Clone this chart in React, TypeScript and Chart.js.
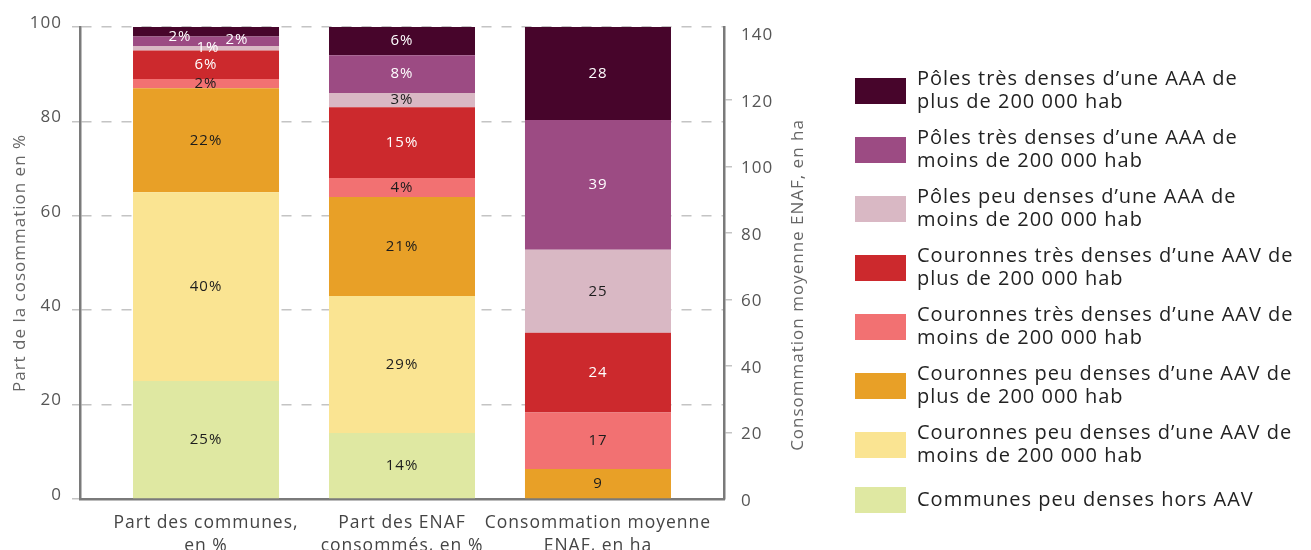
import React, { useEffect, useRef } from "react";
import { Chart, registerables } from "chart.js";

Chart.register(...registerables);

// ---------- DATA ----------
const categories: string[][] = [
  ["Part des communes,", "en %"],
  ["Part des ENAF", "consommés, en %"],
  ["Consommation moyenne", "ENAF, en ha"],
];

// series, from bottom of the stack to top
const seriesNames: string[] = [
  "Communes peu denses hors AAV",
  "Couronnes peu denses d’une AAV de moins de 200 000 hab",
  "Couronnes peu denses d’une AAV de plus de 200 000 hab",
  "Couronnes très denses d’une AAV de moins de 200 000 hab",
  "Couronnes très denses d’une AAV de plus de 200 000 hab",
  "Pôles peu denses d’une AAA de moins de 200 000 hab",
  "Pôles très denses d’une AAA de moins de 200 000 hab",
  "Pôles très denses d’une AAA de plus de 200 000 hab",
];

const legendLines: string[][] = [
  ["Communes peu denses hors AAV"],
  ["Couronnes peu denses d’une AAV de", "moins de 200 000 hab"],
  ["Couronnes peu denses d’une AAV de", "plus de 200 000 hab"],
  ["Couronnes très denses d’une AAV de", "moins de 200 000 hab"],
  ["Couronnes très denses d’une AAV de", "plus de 200 000 hab"],
  ["Pôles peu denses d’une AAA de", "moins de 200 000 hab"],
  ["Pôles très denses d’une AAA de", "moins de 200 000 hab"],
  ["Pôles très denses d’une AAA de", "plus de 200 000 hab"],
];

const seriesColors: string[] = [
  "#dfe8a2",
  "#fae492",
  "#e8a027",
  "#f27172",
  "#cc292d",
  "#d9b8c4",
  "#9c4b83",
  "#47052b",
];

const partCommunes: number[] = [25, 40, 22, 2, 6, 1, 2, 2];
const partEnaf: number[] = [14, 29, 21, 4, 15, 3, 8, 6];
const consoMoyenne: number[] = [0, 0, 9, 17, 24, 25, 39, 28];

const leftTicks: number[] = [0, 20, 40, 60, 80, 100];
const rightTicks: number[] = [0, 20, 40, 60, 80, 100, 120, 140];

const leftTitle = "Part de la cosommation en %";
const rightTitle = "Consommation moyenne ENAF, en ha";

// ---------- STYLE ----------
const FONT = "'Open Sans', 'Noto Sans', sans-serif";
const AXIS = "#7a7a7a";
const GRID = "#c4c4c4";
const TICK = "#555555";
const SPACING = "1px";
const whiteText = new Set([4, 6, 7]);
const labelTweaks: Record<string, { dx: number; dy: number; color?: string }> = {
  "7-0": { dx: -26, dy: 5 },
  "6-0": { dx: 31, dy: -1 },
  "5-0": { dx: 2, dy: -1, color: "#ffffff" },
};

const rightMax = consoMoyenne.reduce((a, b) => a + b, 0);

const spacingPlugin = {
  id: "spacing",
  beforeLayout(chart: any) {
    (chart.ctx as any).letterSpacing = SPACING;
  },
  beforeDraw(chart: any) {
    (chart.ctx as any).letterSpacing = SPACING;
  },
};

const valueLabels = {
  id: "valueLabels",
  afterDatasetsDraw(chart: any) {
    const ctx = chart.ctx;
    ctx.save();
    ctx.font = `500 15px ${FONT}`;
    ctx.textAlign = "center";
    ctx.textBaseline = "middle";
    chart.data.datasets.forEach((ds: any, di: number) => {
      const meta = chart.getDatasetMeta(di);
      meta.data.forEach((el: any, j: number) => {
        const pt = ds.data[j];
        if (!pt || !pt.y) return;
        const s = ds.seriesIndex;
        const tw = labelTweaks[`${s}-${pt.x}`] || { dx: 0, dy: 0 };
        const text = ds.yAxisID === "y" ? `${pt.y}%` : `${pt.y}`;
        ctx.fillStyle = tw.color || (whiteText.has(s) ? "#ffffff" : "#1c1c1c");
        ctx.fillText(text, el.x + tw.dx, (el.y + el.base) / 2 + tw.dy);
      });
    });
    ctx.restore();
  },
};

const sideLegend = {
  id: "sideLegend",
  afterDraw(chart: any) {
    const ctx = chart.ctx;
    ctx.save();
    ctx.font = `20px ${FONT}`;
    ctx.textBaseline = "middle";
    ctx.textAlign = "left";
    let top = 78;
    const order = seriesNames.map((_, i) => i).reverse();
    order.forEach((s, k) => {
      const lines = legendLines[s];
      ctx.fillStyle = seriesColors[s];
      ctx.fillRect(855, top, 51, 26);
      const cy = top + 13;
      ctx.fillStyle = "#222222";
      if (lines.length === 1) {
        ctx.fillText(lines[0], 917, cy);
      } else {
        ctx.fillText(lines[0], 917, cy - 11.5);
        ctx.fillText(lines[1], 917, cy + 11.5);
      }
      const next = order[k + 1];
      if (next !== undefined) top += legendLines[next].length === 1 ? 55 : 59;
    });
    // right axis title (reads bottom-to-top)
    ctx.font = `17px ${FONT}`;
    ctx.fillStyle = "#666666";
    ctx.textAlign = "center";
    ctx.translate(798, 285);
    ctx.rotate(-Math.PI / 2);
    ctx.fillText(rightTitle, 0, 0);
    ctx.restore();
  },
};

export default function App() {
  const ref = useRef<HTMLCanvasElement | null>(null);

  useEffect(() => {
    if (!ref.current) return;
    Chart.defaults.font.family = FONT;

    const datasets: any[] = [];
    seriesNames.forEach((name, s) => {
      datasets.push({
        label: name,
        seriesIndex: s,
        yAxisID: "y",
        backgroundColor: seriesColors[s],
        data: [
          { x: 0, y: partCommunes[s] },
          { x: 1, y: partEnaf[s] },
        ],
      });
      datasets.push({
        label: name,
        seriesIndex: s,
        yAxisID: "y2",
        backgroundColor: seriesColors[s],
        data: [{ x: 2, y: consoMoyenne[s] }],
      });
    });

    const chart = new Chart(ref.current, {
      type: "bar",
      data: { datasets },
      plugins: [spacingPlugin, valueLabels, sideLegend],
      options: {
        animation: false,
        responsive: true,
        maintainAspectRatio: false,
        layout: { padding: { top: 27, right: 497, bottom: 0, left: 0 } },
        datasets: { bar: { barPercentage: 0.745, categoryPercentage: 1, borderWidth: 0 } },
        plugins: { legend: { display: false }, tooltip: { enabled: false } },
        scales: {
          x: {
            type: "linear",
            min: -0.643,
            max: 2.643,
            offset: false,
            stacked: true,
            grid: { display: false, drawTicks: false, offset: false },
            border: { display: true, color: AXIS, width: 2.5 },
            afterBuildTicks: (s: any) => {
              s.ticks = categories.map((_, i) => ({ value: i }));
            },
            afterFit: (s: any) => {
              s.height = 51;
            },
            ticks: {
              callback: (v: any) => categories[v],
              color: "#444444",
              font: { size: 17.5, family: FONT, lineHeight: 1.3 },
              padding: 13,
              maxRotation: 0,
              autoSkip: false,
            },
          },
          y: {
            type: "linear",
            position: "left",
            stacked: true,
            min: 0,
            max: 100,
            afterBuildTicks: (s: any) => {
              s.ticks = leftTicks.map((v) => ({ value: v }));
            },
            afterFit: (s: any) => {
              s.width = 80;
            },
            grid: { color: GRID, lineWidth: 1.5, tickLength: 8, drawTicks: true },
            border: { display: true, color: AXIS, width: 2.5, dash: [10, 10] },
            ticks: { color: TICK, font: { size: 17, family: FONT }, padding: 10, labelOffset: -4 },
            title: {
              display: true,
              text: leftTitle,
              color: "#666666",
              font: { size: 17, family: FONT },
              padding: { top: 10, bottom: 0 },
            },
          },
          y2: {
            type: "linear",
            position: "right",
            stacked: true,
            min: 0,
            max: rightMax,
            afterBuildTicks: (s: any) => {
              s.ticks = rightTicks.map((v) => ({ value: v }));
            },
            afterFit: (s: any) => {
              s.width = 90;
            },
            grid: {
              drawOnChartArea: false,
              drawTicks: true,
              tickLength: 8,
              lineWidth: 1.5,
              color: (c: any) =>
                c.tick && (c.tick.value === 0 || c.tick.value === 140) ? "rgba(0,0,0,0)" : GRID,
            },
            border: { display: true, color: AXIS, width: 2.5 },
            ticks: { color: TICK, font: { size: 17, family: FONT }, padding: 9, labelOffset: 2 },
          },
        },
      } as any,
    });
    return () => chart.destroy();
  }, []);

  return (
    <div style={{ position: "fixed", left: 0, top: 0, width: 1311, height: 550, background: "#fff" }}>
      <canvas ref={ref} />
    </div>
  );
}
